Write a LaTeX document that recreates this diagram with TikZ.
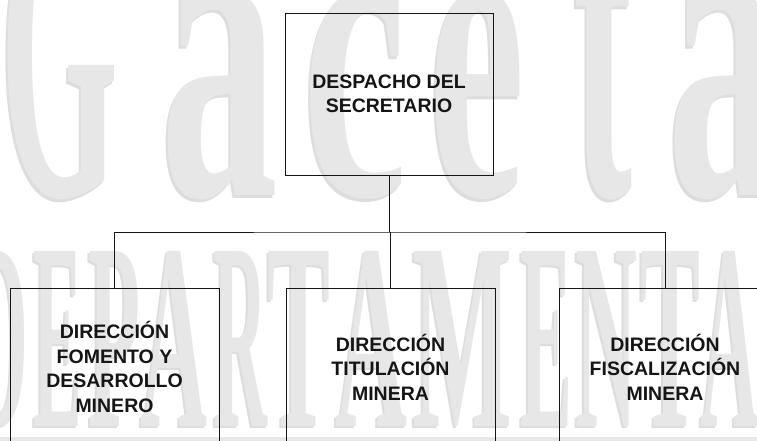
\documentclass[tikz,border=0pt]{standalone}
\usepackage{fontspec}
\setmainfont{Liberation Sans}
\newfontfamily\wmfont{Liberation Serif}
\usepackage{graphicx}
\definecolor{wm}{HTML}{E7E7E7}
\definecolor{wmsh}{HTML}{DDDDDD}
\definecolor{ink}{HTML}{151515}
\begin{document}
\begin{tikzpicture}[x=1pt,y=-1pt,
  orgbox/.style={draw=ink, line width=0.9pt, minimum width=208pt, align=center,
    font=\bfseries\fontsize{19.5}{24.5}\selectfont, text=ink, inner sep=0pt},
  link/.style={draw=ink, line width=0.9pt},
  wmletter/.style={anchor=south west, inner sep=0pt, text=wm, font=\wmfont\bfseries}]
\useasboundingbox (0,0) rectangle (757,441);
\clip (0,0) rectangle (757,441);
% watermark "Gaceta"
\foreach \ch/\x/\w/\h in {G/0/118/290, a/160/118/205, c/302/105/205, e/428/97/205, t/573/59/260, a/667/115/205} {
  \node[wmletter, text=wmsh] (wms\x) at (\x-2,203) {\resizebox{\w pt}{\h pt}{\ch}};
  \node[wmletter] (wmg\x) at (\x,200) {\resizebox{\w pt}{\h pt}{\ch}};
}
% watermark "DEPARTAMENTAL"
\foreach \ch/\x/\w [count=\i] in {D/-30/58, E/33/49, P/88/52, A/140/67, R/213/54, T/267/63, A/335/72, M/412/100, E/520/52, N/575/62, T/640/60, A/700/58, L/760/50} {
  \node[wmletter, text=wmsh] (wmds\i) at (\x-2,429) {\resizebox{\w pt}{175pt}{\ch}};
  \node[wmletter] (wmd\i) at (\x,427) {\resizebox{\w pt}{175pt}{\ch}};
}
\fill[wm] (0,437) rectangle (757,441);
% boxes
\node[orgbox, minimum height=162pt] (top) at (389,94) {DESPACHO DEL\\SECRETARIO};
\node[orgbox, minimum width=209pt, minimum height=158pt] (dfm) at (114.5,367) {DIRECCIÓN\\FOMENTO Y\\DESARROLLO\\MINERO};
\node[orgbox, minimum width=209pt, minimum height=158pt] (dtm) at (390.5,367) {DIRECCIÓN\\TITULACIÓN\\MINERA};
\node[orgbox, minimum width=212pt, minimum height=158pt] (dfz) at (665,367) {DIRECCIÓN\\FISCALIZACIÓN\\MINERA};
% connectors
\coordinate (bus) at (390,232);
\draw[link] (top.south) -- (top.south |- bus);
\draw[link] (dfm.north) |- (bus) -| (dfz.north);
\draw[link] (dtm.north) -- (dtm.north |- bus);
\end{tikzpicture}
\end{document}
